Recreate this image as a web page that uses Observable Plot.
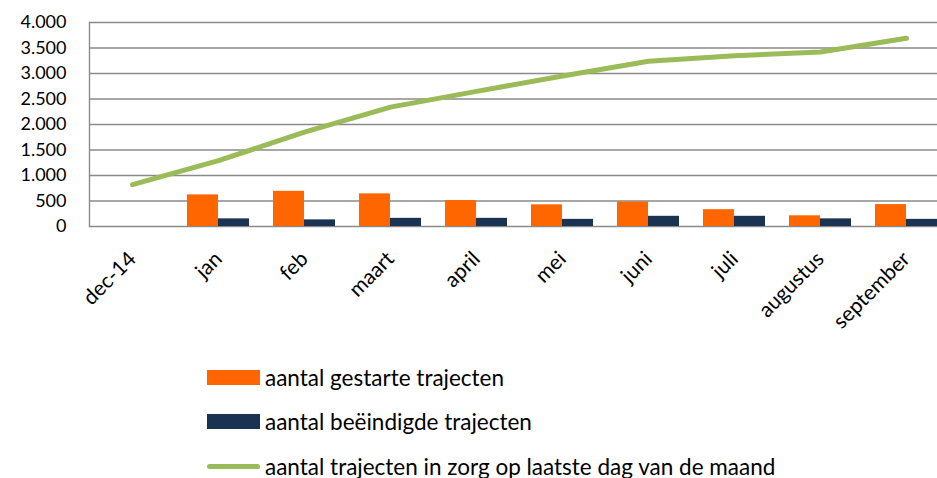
<!DOCTYPE html>
<html>
<head>
<meta charset="utf-8">
<script src="https://cdn.jsdelivr.net/npm/d3@7"></script>
<script src="https://cdn.jsdelivr.net/npm/@observablehq/plot@0.6"></script>
<style>
  html, body { margin: 0; padding: 0; background: #fff; }
  body { width: 937px; height: 478px; overflow: hidden; position: relative; font-family: Lato, "Open Sans", sans-serif; }
  #legend { position: absolute; left: 207px; top: 0; font-size: 22.5px; color: #000; }
  .row { position: absolute; left: 0; display: flex; align-items: center; white-space: nowrap; height: 26px; }
  .sw { width: 53px; margin-right: 5px; }
</style>
</head>
<body>
<div id="chart"></div>
<div id="legend"></div>
<script>
const months = ["dec-14", "jan", "feb", "maart", "april", "mei", "juni", "juli", "augustus", "september"];
const gestart = [null, 620, 690, 640, 510, 425, 480, 330, 210, 430];
const beeindigd = [null, 150, 130, 160, 160, 140, 200, 200, 150, 140];
const inZorg = [820, 1290, 1850, 2340, 2650, 2950, 3240, 3350, 3420, 3690];
const yTicks = [0, 500, 1000, 1500, 2000, 2500, 3000, 3500, 4000];
const seriesNames = ["aantal gestarte trajecten", "aantal beëindigde trajecten", "aantal trajecten in zorg op laatste dag van de maand"];
const seriesColors = ["#FF6600", "#1B3352", "#9BBB59"];

const rows = months.map((m, i) => ({month: m, gestart: gestart[i], beeindigd: beeindigd[i], inZorg: inZorg[i]}));
const fmt = d => d3.format(",")(d).replace(/,/g, ".");

const chart = Plot.plot({
  width: 937,
  height: 350,
  marginTop: 22,
  marginBottom: 124,
  marginLeft: 89,
  marginRight: 0,
  x: {domain: months, range: [89, 949], padding: 0, label: null},
  y: {domain: [0, 4000], label: null},
  style: {fontFamily: "Lato, 'Open Sans', sans-serif", fontSize: "19px", color: "#000", overflow: "hidden"},
  marks: [
    Plot.ruleY(yTicks, {stroke: "#8a8a8a", strokeWidth: 1.4}),
    Plot.frame({anchor: "left", stroke: "#8a8a8a", strokeWidth: 1.4}),
    Plot.barY(rows, {x: "month", y: "gestart", fill: seriesColors[0], insetLeft: 12, insetRight: 43}),
    Plot.barY(rows, {x: "month", y: "beeindigd", fill: seriesColors[1], insetLeft: 43, insetRight: 12}),
    Plot.lineY(rows, {x: "month", y: "inZorg", stroke: seriesColors[2], strokeWidth: 5, strokeLinecap: "round", strokeLinejoin: "round"}),
    Plot.axisY({ticks: yTicks, tickSize: 0, tickPadding: 23, tickFormat: fmt, fontSize: 18}),
    Plot.axisX({tickSize: 0, tickRotate: -45, tickPadding: 29, fontSize: 21})
  ]
});
document.getElementById("chart").appendChild(chart);

const legend = document.getElementById("legend");
const centers = [377, 421, 466];
seriesNames.forEach((name, i) => {
  const row = document.createElement("div");
  row.className = "row";
  row.style.top = (centers[i] - 13) + "px";
  const sw = document.createElement("div");
  sw.className = "sw";
  if (i < 2) {
    sw.style.height = "15px";
    sw.style.background = seriesColors[i];
  } else {
    sw.style.height = "5px";
    sw.style.borderRadius = "3px";
    sw.style.background = seriesColors[i];
  }
  const tx = document.createElement("span");
  tx.textContent = name;
  row.appendChild(sw);
  row.appendChild(tx);
  legend.appendChild(row);
});
</script>
</body>
</html>
